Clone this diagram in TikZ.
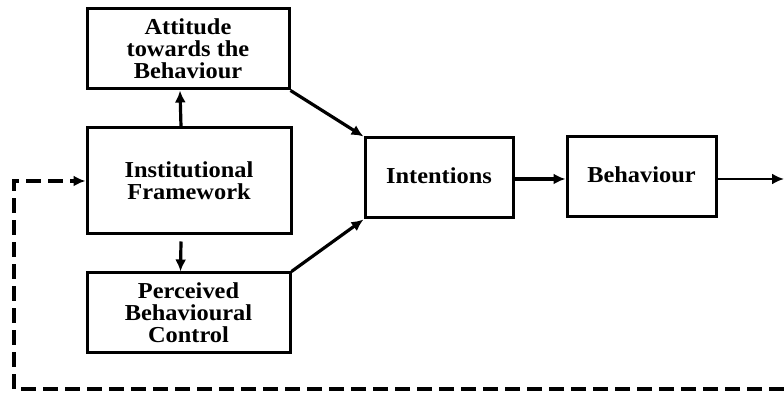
\documentclass[tikz,border=0pt]{standalone}
\usepackage{fontspec}
\setmainfont{Liberation Serif}[FakeStretch=1.07]
\usetikzlibrary{arrows.meta}

\begin{document}
\begin{tikzpicture}[x=0.5pt,y=-0.5pt,>={Latex[length=6pt,width=5.5pt]},
  box/.style={draw,line width=1.5pt,align=center,inner sep=0pt,
    font=\fontsize{11.4}{11}\selectfont\bfseries},
  link/.style={->,line width=1.6pt},
  loop/.style={->,line width=1.6pt,dash pattern=on 7.5pt off 3.5pt}]
\useasboundingbox (0,0) rectangle (784,394);
\node[box,minimum width=101pt,minimum height=40pt] (att) at (188,49) {Attitude\\towards the\\Behaviour};
\node[box,minimum width=102pt,minimum height=53pt] (inst) at (189,181) {Institutional\\Framework};
\node[box,minimum width=101.5pt,minimum height=40pt] (perc) at (188.5,313) {Perceived\\Behavioural\\Control};
\node[box,minimum width=74pt,minimum height=40pt] (int) at (439,178) {\raisebox{2pt}{Intentions}};
\node[box,minimum width=74.5pt,minimum height=40pt] (beh) at (641.5,177) {\raisebox{2pt}{Behaviour}};
\coordinate (out) at (784,179);
\coordinate (loopR) at (784,389);
\coordinate (loopL) at (14,389);
\draw[link] ([xshift=-4pt]inst.north) -- ([xshift=-4pt]att.south);
\draw[link] ([xshift=-4pt,yshift=-3pt]inst.south) -- ([xshift=-4pt]perc.north);
\draw[link] (att.south east) -- (int.north west);
\draw[link] (perc.north east) -- (int.south west);
\draw[link] (int.east |- out) -- (beh.west |- out);
\draw[->,line width=1.1pt] (beh.east |- out) -- (out);
\draw[loop] (loopR) -- (loopL) |- (inst.west);
\end{tikzpicture}
\end{document}
